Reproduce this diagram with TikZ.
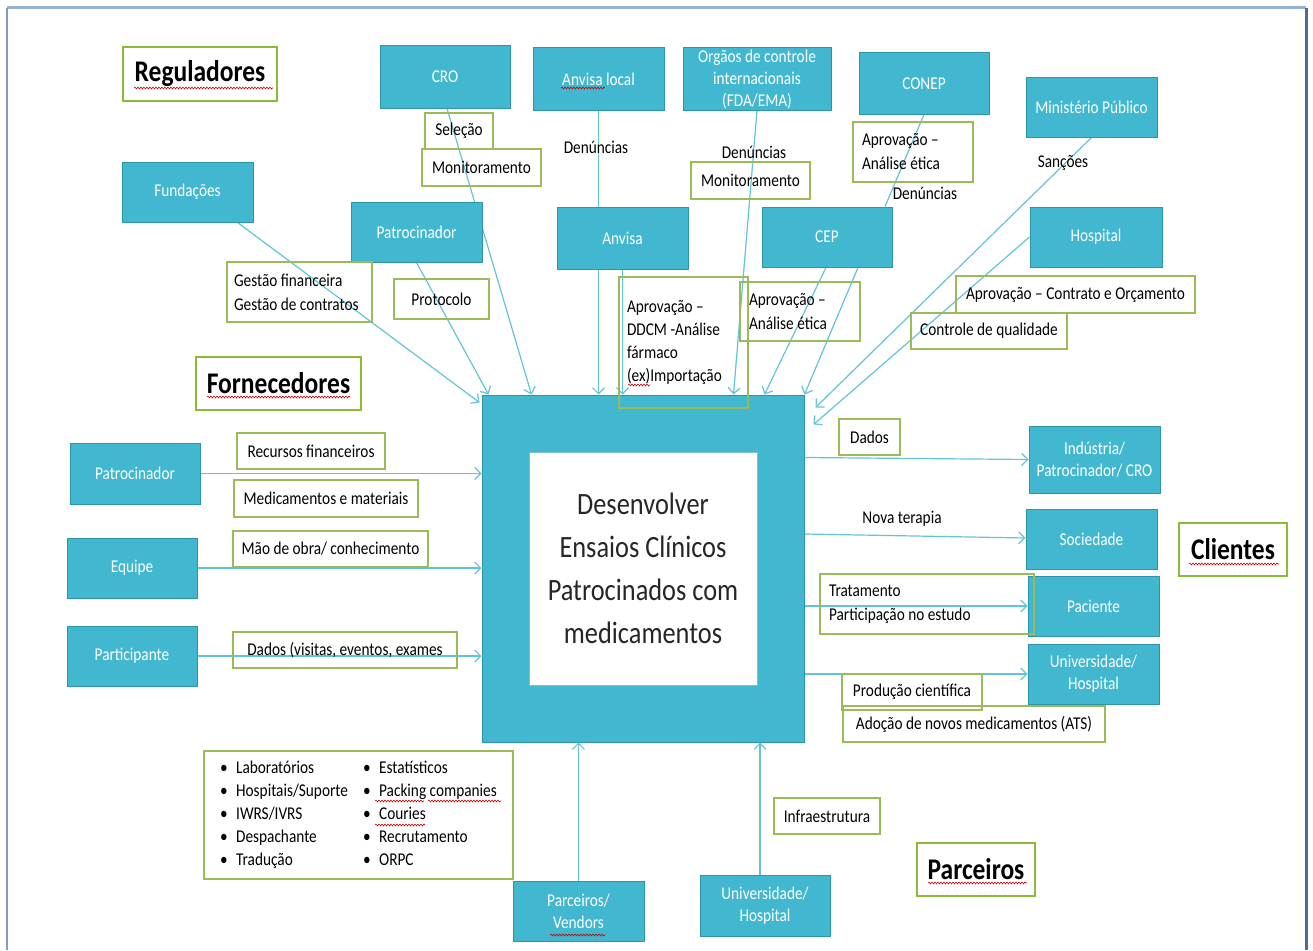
\documentclass[tikz,border=0pt]{standalone}
\usepackage{fontspec}
\setmainfont{Carlito}[FakeStretch=0.85]
\usetikzlibrary{arrows.meta,decorations.pathmorphing}
\pgfdeclarelayer{bg}
\pgfsetlayers{bg,main}
\definecolor{teal1}{RGB}{66,183,208}
\definecolor{teal2}{RGB}{46,148,172}
\definecolor{lgreen}{RGB}{155,187,89}
\definecolor{hgreen}{RGB}{140,186,50}
\definecolor{arrowc}{RGB}{98,196,216}
\definecolor{framel}{RGB}{150,178,214}
\definecolor{framed}{RGB}{80,106,148}
\definecolor{ink}{RGB}{38,38,38}
\begin{document}
\begin{tikzpicture}[x=1pt,y=-1pt,
  sz/.style 2 args={minimum width=#1, minimum height=#2},
  tbox/.style={draw=teal2, line width=1pt, fill=teal1, text=white, inner sep=0pt,
    align=center, font=\fontsize{18}{22}\selectfont},
  lbl/.style={draw=lgreen, line width=1.4pt, inner sep=0pt, align=center,
    font=\fontsize{18}{24}\selectfont},
  lblL/.style={lbl, align=flush left, text width=#1},
  freetext/.style={inner sep=0pt, font=\fontsize{18}{22}\selectfont},
  head/.style={draw=hgreen, line width=2.6pt, fill=white, inner sep=0pt,
    font=\fontsize{30}{34}\selectfont\bfseries},
  flow/.style={draw=arrowc, line width=1.2pt,
    -{Straight Barb[length=6pt,width=12pt,line width=1.2pt]}},
  link/.style={draw=arrowc, line width=1.2pt},
  sq/.style={draw=red!80!black, line width=0.6pt, decorate,
    decoration={snake, amplitude=0.9pt, segment length=3pt}},
]
\useasboundingbox (0,0) rectangle (1313,950);

% page frame
\draw[framel, line width=3pt] (7,8) -- (1306,8);
\draw[framel!70!framed, line width=2.5pt] (7,8) -- (7,950);
\draw[framed, line width=3pt] (1306,8) -- (1306,950);

% headings
\node[head, sz={154}{54}] (regl) at (200,74) {Reguladores};
\node[head, sz={165}{53}] (forn) at (278.5,383.5) {Fornecedores};
\node[head, sz={108}{53}] (cli) at (1233,549.5) {Clientes};
\node[head, sz={118}{53}] (parc) at (976,869.5) {Parceiros};

% regulators
\node[tbox, sz={130}{62}] (cro) at (445,77) {CRO};
\node[tbox, sz={131}{62}] (anvl) at (598.5,79) {Anvisa local};
\node[tbox, sz={148}{62}] (fda) at (757,79) {Orgãos de controle\\internacionais\\(FDA/EMA)};
\node[tbox, sz={130}{61}] (conep) at (924,83.5) {CONEP};
\node[tbox, sz={131}{60}] (mp) at (1091.5,107) {Ministério Público};
\node[tbox, sz={131}{60}] (fund) at (187.5,192) {Fundações};
\node[tbox, sz={131}{60}] (patt) at (416.5,232) {Patrocinador};
\node[tbox, sz={131}{62}] (anv) at (622.5,238) {Anvisa};
\node[tbox, sz={130}{60}] (cep) at (827,237) {CEP};
\node[tbox, sz={132}{60}] (hosp) at (1096,237) {Hospital};

% suppliers
\node[tbox, sz={130}{61}] (patl) at (135,473.5) {Patrocinador};
\node[tbox, sz={130}{60}] (equipe) at (132,568) {Equipe};
\node[tbox, sz={130}{60}] (part) at (132,656) {Participante};

% process
\node[tbox, sz={322}{347}] (ctr) at (643,568.5) {};
\node[draw=teal2!60, fill=white, line width=0.8pt, sz={228}{233}, inner sep=0pt,
  align=center, text=ink, font=\fontsize{31}{43}\selectfont] (goal) at (643,568.5)
  {Desenvolver\\Ensaios Clínicos\\Patrocinados  com\\medicamentos};

% clients
\node[tbox, sz={131}{67}] (ind) at (1094.5,459.5) {Indústria/\\Patrocinador/ CRO};
\node[tbox, sz={131}{60}] (soc) at (1091.5,539) {Sociedade};
\node[tbox, sz={131}{60}] (pac) at (1093.5,606) {Paciente};
\node[tbox, sz={131}{60}] (univ) at (1093.5,674) {Universidade/\\Hospital};

% partners
\node[tbox, sz={131}{60}] (parcv) at (578.5,911) {Parceiros/\\Vendors};
\node[tbox, sz={130}{61}] (univb) at (765,905.5) {Universidade/\\Hospital};

% flows
\begin{pgfonlayer}{bg}
\draw[flow] ([xshift=-16pt]fund.south east) -- ([xshift=-2pt,yshift=-8pt]ctr.north west);
\draw[flow] (patt.south) -- ([xshift=7pt]ctr.north west);
\draw[flow] ([xshift=2pt]cro.south) -- ([xshift=50pt]ctr.north west);
\draw[flow] (anvl.south) -- (anvl.south |- ctr.north);
\draw[flow] (anv.south) -- (anv.south |- ctr.north);
\draw[flow] (fda.south) -- ([xshift=252pt]ctr.north west);
\draw[flow] ([xshift=-1pt]cep.south) -- ([xshift=283pt]ctr.north west);
\draw[flow] ([xshift=31pt]cep.south) -- (ctr.north east);
\draw[link] (conep.south) -- ([xshift=58pt]cep.north);
\draw[flow] (mp.south) -- ([xshift=11pt,yshift=-13pt]ctr.north east);
\draw[flow] (hosp.west) -- ([xshift=9pt,yshift=-30pt]ctr.north east);
\draw[flow] (patl.east) -- (patl.east -| ctr.west);
\draw[flow] (equipe.east) -- (equipe.east -| ctr.west);
\draw[flow] (part.east) -- (part.east -| ctr.west);
\draw[flow] ([yshift=2pt]ind.west -| ctr.east) -- (ind.west);
\draw[flow] ([yshift=5pt]soc.west -| ctr.east) -- ([yshift=1pt]soc.west);
\draw[flow] (pac.west -| ctr.east) -- (pac.west);
\draw[flow] (univ.west -| ctr.east) -- (univ.west);
\draw[flow] (parcv.north) -- (parcv.north |- ctr.south);
\draw[flow] ([xshift=-5pt]univb.north) -- ([xshift=-5pt]univb.north |- ctr.south);
\end{pgfonlayer}

% flow labels
\node[lbl, sz={68}{36}] (sel) at (459,131) {Seleção};
\node[lbl, sz={119}{37}] (mon1) at (481.5,167.5) {Monitoramento};
\node[lbl, sz={119}{37}] (mon2) at (750.5,180.5) {Monitoramento};
\node[freetext] (den1) at (596,147) {Denúncias};
\node[freetext] (den2) at (754,152) {Denúncias};
\node[freetext] (den3) at (925,193) {Denúncias};
\node[freetext] (sanc) at (1063,163) {Sanções};
\node[lblL=131, sz={145}{60}] (gest) at (299.5,292) {Gestão financeira\\Gestão de contratos};
\node[lbl, sz={95}{40}] (prot) at (441.5,299) {Protocolo};
\node[lblL=113, sz={129}{131}, font=\fontsize{18}{23}\selectfont] (ddcm) at (683.5,342.5)
  {Aprovação –\\DDCM -Análise\\fármaco\\(ex)Importação};
\node[lblL=102, sz={120}{59}] (cepl) at (800,311.5) {Aprovação –\\Análise ética};
\node[lblL=102, sz={120}{60}] (conepl) at (913,152) {Aprovação –\\Análise ética};
\node[lbl, sz={239}{37}] (contr) at (1075.5,294.5) {Aprovação – Contrato e Orçamento};
\node[lbl, sz={156}{36}] (qual) at (989,331) {Controle de qualidade};

\node[lbl, sz={148}{36}] (rec) at (311,451) {Recursos financeiros};
\node[lbl, sz={184}{37}] (medm) at (326,498.5) {Medicamentos e materiais};
\node[lbl, sz={195}{36}] (mao) at (330.5,549) {Mão de obra/ conhecimento};
\node[lbl, sz={224}{36}] (dadv) at (345,650) {Dados (visitas, eventos, exames};

\node[lbl, sz={61}{36}] (dados) at (869.5,437) {Dados};
\node[freetext] (nova) at (902,519) {Nova terapia};
\node[lblL=196, sz={214}{60}] (trat) at (927,604) {Tratamento\\Participação no estudo};
\node[lbl, sz={140}{36}] (prod) at (912,692) {Produção científica};
\node[lbl, sz={262}{36}] (ados) at (974,724) {Adoção de novos medicamentos (ATS)};

\node[lbl, sz={106}{36}] (infra) at (827,816) {Infraestrutura};
\node[lbl, sz={309}{128}, align=left, font=\fontsize{18}{23}\selectfont] (vend) at (358.5,815) {%
  \makebox[143pt][l]{\makebox[16pt][l]{•}Laboratórios}\makebox[16pt][l]{•}Estatísticos\\
  \makebox[143pt][l]{\makebox[16pt][l]{•}Hospitais/Suporte}\makebox[16pt][l]{•}Packing companies\\
  \makebox[143pt][l]{\makebox[16pt][l]{•}IWRS/IVRS}\makebox[16pt][l]{•}Couries\\
  \makebox[143pt][l]{\makebox[16pt][l]{•}Despachante}\makebox[16pt][l]{•}Recrutamento\\
  \makebox[143pt][l]{\makebox[16pt][l]{•}Tradução}\makebox[16pt][l]{•}ORPC};

% spell-check marks
\draw[sq] (134,88) -- (273,88);
\draw[sq] (207,397) -- (350,397);
\draw[sq] (1189,564) -- (1279,564);
\draw[sq] (928,883) -- (1027,883);
\draw[sq] (561,88) -- (605,88);
\draw[sq] (550,935) -- (605,935);
\draw[sq] (375,801) -- (424,801);
\draw[sq] (428,801) -- (501,801);
\draw[sq] (375,825) -- (425,825);
\draw[sq] (628,385) -- (650,385);
\end{tikzpicture}
\end{document}
